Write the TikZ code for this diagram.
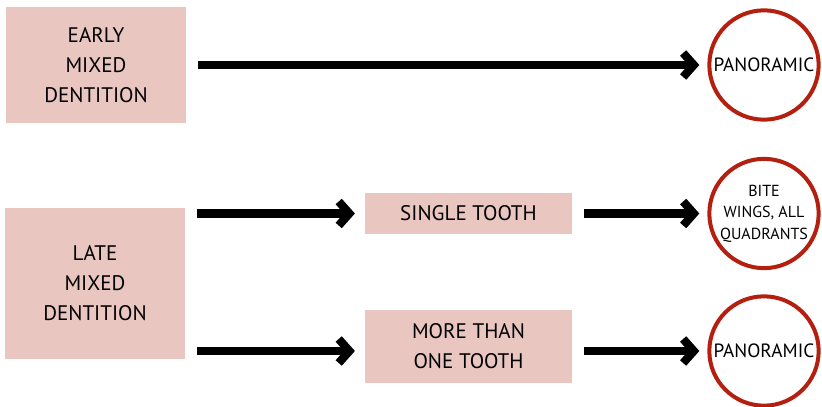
\documentclass[tikz,border=0pt]{standalone}
\usepackage{fontspec}
\setmainfont{PT Sans}
\definecolor{boxPink}{HTML}{EAC6C1}
\definecolor{ringRed}{HTML}{B3200F}
\usetikzlibrary{arrows.meta, positioning}

\begin{document}
\begin{tikzpicture}[x=0.75pt, y=-0.75pt,
  stage/.style={fill=boxPink, align=center, inner sep=0pt,
    font=\fontsize{15.8}{22.5}\selectfont},
  view/.style={circle, draw=ringRed, line width=3pt, fill=white, align=center,
    inner sep=0pt, minimum size=82pt, font=\fontsize{14.4}{16}\selectfont},
  flow/.style={line width=6.2pt, -{Straight Barb[length=8pt,width=18pt]},
    shorten <=9pt, shorten >=6pt}]
  \useasboundingbox (0,0) rectangle (822,407);
  \node[stage, minimum width=135pt, minimum height=87pt] (early) at (96,65) {EARLY\\MIXED\\DENTITION};
  \node[stage, minimum width=135pt, minimum height=113pt] (late) at (95,283.5) {LATE\\MIXED\\DENTITION};
  \node[stage, minimum width=155pt, minimum height=31pt] (single) at (468.5,213.5) {SINGLE TOOTH};
  \node[stage, minimum width=155pt, minimum height=55pt] (more) at (468.5,346.5) {MORE THAN\\ONE TOOTH};
  \node[view] (pano1) at (764,65) {PANORAMIC};
  \node[view, font=\fontsize{12}{16}\selectfont] (bite) at (764,213.5) {BITE\\WINGS, ALL\\QUADRANTS};
  \node[view] (pano2) at (764,351) {PANORAMIC};
  \draw[flow] (early.east) -- (pano1.west);
  \draw[flow, shorten >=7.5pt] (late.east |- single) -- (single.west);
  \draw[flow] (single.east) -- (bite.west);
  \draw[flow, shorten >=7.5pt] (late.east |- pano2) -- (more.west |- pano2);
  \draw[flow] (more.east |- pano2) -- (pano2.west);
\end{tikzpicture}
\end{document}
